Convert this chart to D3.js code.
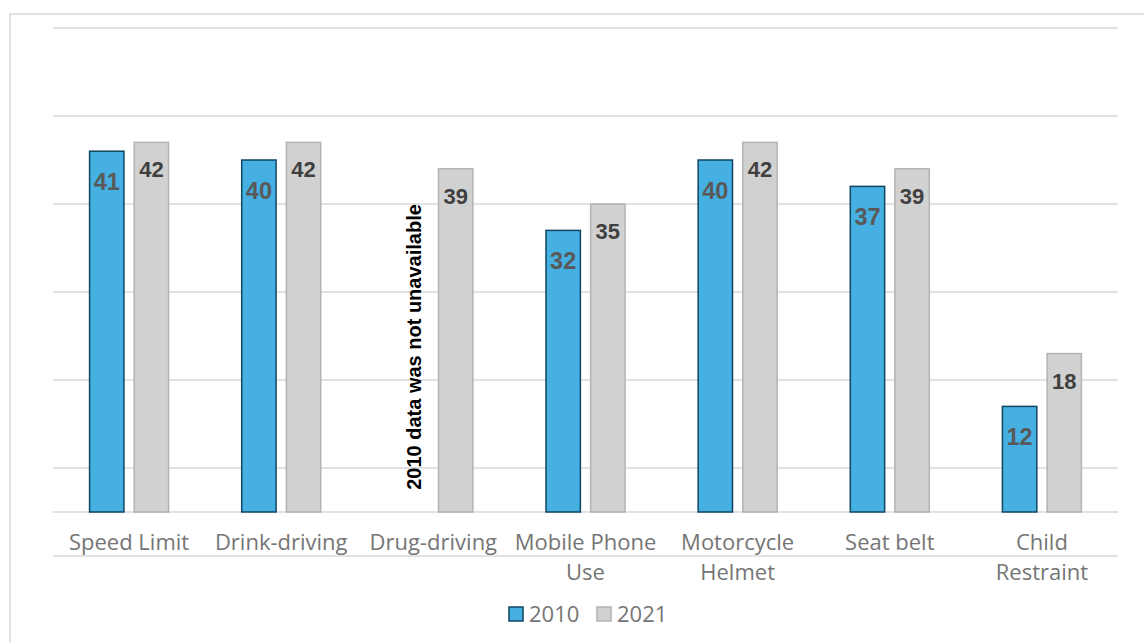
<!DOCTYPE html>
<html>
<head>
<meta charset="utf-8">
<script src="https://cdn.jsdelivr.net/npm/d3@7"></script>
<style>
  html, body { margin: 0; padding: 0; background: #fff; }
  svg { display: block; }
</style>
</head>
<body>
<svg id="chart" width="1144" height="642"></svg>
<script>
// Enforcement categories (line breaks mark wrapped axis labels)
const categories = ["Speed Limit", "Drink-driving", "Drug-driving", "Mobile Phone\nUse", "Motorcycle\nHelmet", "Seat belt", "Child\nRestraint"];
const series = ["2010", "2021"];
const values2010 = [41, 40, null, 32, 40, 37, 12];
const values2021 = [42, 42, 39, 35, 42, 39, 18];
const gridValues = [-5, 5, 15, 25, 35, 45, 55];
const missingNote = "2010 data was not unavailable";

const svg = d3.select("#chart");
const W = 1144, H = 642;
const margin = { left: 53, right: 26, top: 28 };
const plotRight = W - margin.right;

const font = "'Open Sans', 'Noto Sans', sans-serif";
const fills = { "2010": "#45b0e1", "2021": "#d1d1d1" };
const strokes = { "2010": "#0f4661", "2021": "#b3b3b3" };
const labelColors = { "2010": "#595959", "2021": "#404040" };

// chart frame
svg.append("rect")
  .attr("x", 10).attr("y", 14)
  .attr("width", W + 20).attr("height", H + 20)
  .attr("fill", "none").attr("stroke", "#d9d9d9").attr("stroke-width", 1.5);

const x0 = d3.scaleBand().domain(categories).range([margin.left, plotRight]).paddingInner(0).paddingOuter(0);
const x1 = d3.scaleBand().domain(series).range([x0.bandwidth() / 2 - 39.5, x0.bandwidth() / 2 + 39.5]).paddingInner(0.23);
const y = d3.scaleLinear().domain([-5, 55]).range([556, 28]);

// horizontal gridlines
svg.append("g").selectAll("line").data(gridValues).join("line")
  .attr("x1", margin.left).attr("x2", plotRight)
  .attr("y1", d => y(d)).attr("y2", d => y(d))
  .attr("stroke", "#d9d9d9").attr("stroke-width", 1.5);

// baseline
svg.append("line")
  .attr("x1", margin.left).attr("x2", plotRight)
  .attr("y1", y(0)).attr("y2", y(0))
  .attr("stroke", "#d9d9d9").attr("stroke-width", 1.5);

const rows = categories.map((c, i) => ({ cat: c, "2010": values2010[i], "2021": values2021[i] }));

const groups = svg.append("g").selectAll("g").data(rows).join("g")
  .attr("transform", d => `translate(${x0(d.cat)},0)`);

const bars = groups.selectAll("g.bar")
  .data(d => series.filter(s => d[s] != null).map(s => ({ s, v: d[s] })))
  .join("g").attr("class", "bar");

bars.append("rect")
  .attr("x", d => x1(d.s))
  .attr("y", d => y(d.v))
  .attr("width", x1.bandwidth())
  .attr("height", d => y(0) - y(d.v))
  .attr("fill", d => fills[d.s])
  .attr("stroke", d => strokes[d.s])
  .attr("stroke-width", 1.5);

bars.append("text")
  .attr("x", d => x1(d.s) + x1.bandwidth() / 2)
  .attr("y", d => y(d.v) + (d.s === "2010" ? 39 : 35))
  .attr("text-anchor", "middle")
  .attr("font-family", "'Liberation Sans', Arial, sans-serif")
  .attr("font-weight", "bold")
  .attr("font-size", d => d.s === "2010" ? 23.5 : 22)
  .attr("fill", d => labelColors[d.s])
  .text(d => d.v);

// note for the missing 2010 value
const noteIdx = values2010.findIndex(v => v == null);
const noteX = x0(categories[noteIdx]) + x1("2010") + x1.bandwidth() / 2 + 10;
svg.append("text")
  .attr("transform", `translate(${noteX},${y(0) - 165}) rotate(-90)`)
  .attr("text-anchor", "middle")
  .attr("font-family", "'Liberation Sans', Arial, sans-serif")
  .attr("font-weight", "bold")
  .attr("font-size", 20)
  .attr("fill", "#000")
  .text(missingNote);

// category labels
const catLabels = svg.append("g").selectAll("text").data(categories).join("text")
  .attr("x", d => x0(d) + x0.bandwidth() / 2)
  .attr("y", 550)
  .attr("text-anchor", "middle")
  .attr("font-family", font)
  .attr("font-size", 22)
  .attr("fill", "#757575");
catLabels.selectAll("tspan").data(d => d.split("\n")).join("tspan")
  .attr("x", function () { return d3.select(this.parentNode).attr("x"); })
  .attr("dy", (d, i) => i === 0 ? 0 : 30)
  .text(d => d);

// legend
const legendItems = [{ s: "2010", x: 509 }, { s: "2021", x: 597 }];
const legend = svg.append("g").selectAll("g").data(legendItems).join("g")
  .attr("transform", d => `translate(${d.x},607)`);
legend.append("rect")
  .attr("width", 14).attr("height", 14)
  .attr("fill", d => fills[d.s]).attr("stroke", d => strokes[d.s]).attr("stroke-width", 1.5);
legend.append("text")
  .attr("x", 20).attr("y", 15)
  .attr("font-family", font).attr("font-size", 22)
  .attr("fill", "#757575")
  .text(d => d.s);
</script>
</body>
</html>
